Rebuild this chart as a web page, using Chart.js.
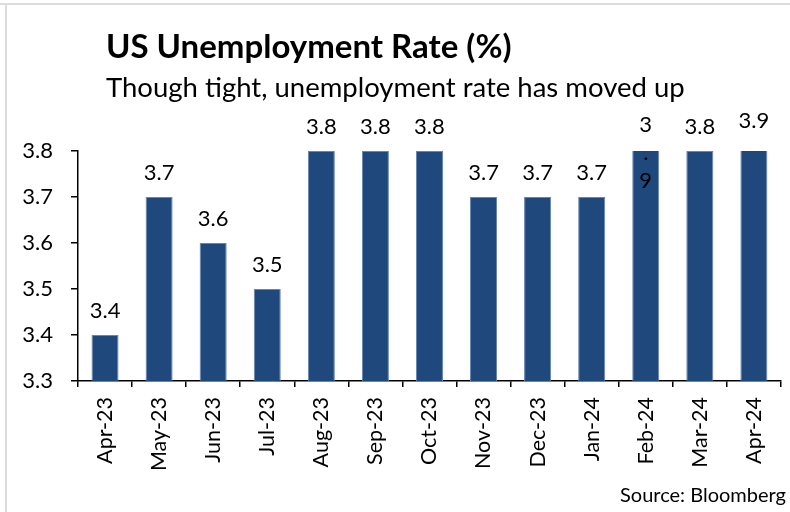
<!DOCTYPE html>
<html>
<head>
<meta charset="utf-8">
<script src="https://cdn.jsdelivr.net/npm/chart.js@4.4.1/dist/chart.umd.min.js"></script>
<style>
  html, body { margin: 0; padding: 0; background: #ffffff; }
  canvas { display: block; }
</style>
</head>
<body>
<canvas id="rateChart" width="790" height="512"></canvas>
<script>
var months = ["Apr-23", "May-23", "Jun-23", "Jul-23", "Aug-23", "Sep-23", "Oct-23",
              "Nov-23", "Dec-23", "Jan-24", "Feb-24", "Mar-24", "Apr-24"];
var unemploymentRate = [3.4, 3.7, 3.6, 3.5, 3.8, 3.8, 3.8, 3.7, 3.7, 3.7, 3.9, 3.8, 3.9];
var yTicks = [3.3, 3.4, 3.5, 3.6, 3.7, 3.8];
var stackedLabels = ["Feb-24"]; // value label wrapped one character per line

var chartTitle = "US Unemployment Rate (%)";
var chartSubtitle = "Though tight, unemployment rate has moved up";
var sourceNote = "Source: Bloomberg";

var FONT = "Lato, 'Open Sans', sans-serif";

// white background plus the thin grey frame at top and left
var frame = {
    id: "frame",
    beforeDraw: function(chart) {
        var ctx = chart.ctx;
        ctx.save();
        ctx.fillStyle = "#ffffff";
        ctx.fillRect(0, 0, chart.width, chart.height);
        ctx.fillStyle = "#dcdcdc";
        ctx.fillRect(0, 3, chart.width, 2);
        ctx.fillRect(5, 3, 2, chart.height - 3);
        ctx.restore();
    }
};

// title, subtitle and source note
var headings = {
    id: "headings",
    afterDraw: function(chart) {
        var ctx = chart.ctx;
        ctx.save();
        ctx.fillStyle = "#000000";
        ctx.textBaseline = "alphabetic";
        ctx.textAlign = "left";
        ctx.font = "bold 33px " + FONT;
        ctx.fillText(chartTitle, 106, 58);
        ctx.font = "27.5px " + FONT;
        ctx.fillText(chartSubtitle, 106, 97);
        ctx.textAlign = "right";
        ctx.font = "20px " + FONT;
        ctx.fillText(sourceNote, 786, 502);
        ctx.restore();
    }
};

// value labels above each bar
var barLabels = {
    id: "barLabels",
    afterDatasetsDraw: function(chart) {
        var ctx = chart.ctx;
        var area = chart.chartArea;
        var meta = chart.getDatasetMeta(0);
        ctx.save();
        ctx.font = "22px " + FONT;
        ctx.fillStyle = "#000000";
        ctx.textAlign = "center";
        ctx.textBaseline = "middle";
        meta.data.forEach(function(bar, i) {
            var text = unemploymentRate[i].toFixed(1);
            var y = Math.max(bar.y - 24, area.top - 30);
            if (stackedLabels.indexOf(months[i]) >= 0) {
                text.split("").forEach(function(ch, j) {
                    ctx.fillText(ch, bar.x, y + 4 + j * 28);
                });
            } else {
                ctx.fillText(text, bar.x, y);
            }
        });
        ctx.restore();
    }
};

var ctx = document.getElementById("rateChart").getContext("2d");
new Chart(ctx, {
    type: "bar",
    data: {
        labels: months,
        datasets: [{
            data: unemploymentRate,
            backgroundColor: "#1f497d",
            borderColor: "#6685b3",
            borderWidth: 1,
            barPercentage: 0.5,
            categoryPercentage: 1.0,
            clip: 0
        }]
    },
    options: {
        responsive: false,
        animation: false,
        layout: { padding: { top: 151, right: 8, bottom: 0, left: 0 } },
        plugins: {
            legend: { display: false },
            tooltip: { enabled: false }
        },
        scales: {
            x: {
                afterFit: function(scale) { scale.height = 131; },
                border: { color: "#000000", width: 1.5 },
                grid: {
                    offset: true,
                    drawOnChartArea: false,
                    drawTicks: true,
                    tickLength: 6,
                    color: "#000000",
                    lineWidth: 1.5
                },
                ticks: {
                    color: "#000000",
                    font: { family: FONT, size: 21.5 },
                    padding: 10,
                    autoSkip: false,
                    minRotation: 90,
                    maxRotation: 90
                }
            },
            y: {
                min: yTicks[0],
                max: yTicks[yTicks.length - 1],
                afterFit: function(scale) { scale.width = 78; },
                afterBuildTicks: function(scale) {
                    scale.ticks = yTicks.map(function(v) { return { value: v }; });
                },
                border: { color: "#000000", width: 1.5 },
                grid: {
                    drawOnChartArea: false,
                    drawTicks: true,
                    tickLength: 7,
                    color: "#000000",
                    lineWidth: 1.5
                },
                ticks: {
                    color: "#000000",
                    font: { family: FONT, size: 22 },
                    padding: 18,
                    callback: function(value) { return Number(value).toFixed(1); }
                }
            }
        }
    },
    plugins: [frame, barLabels, headings]
});
</script>
</body>
</html>
